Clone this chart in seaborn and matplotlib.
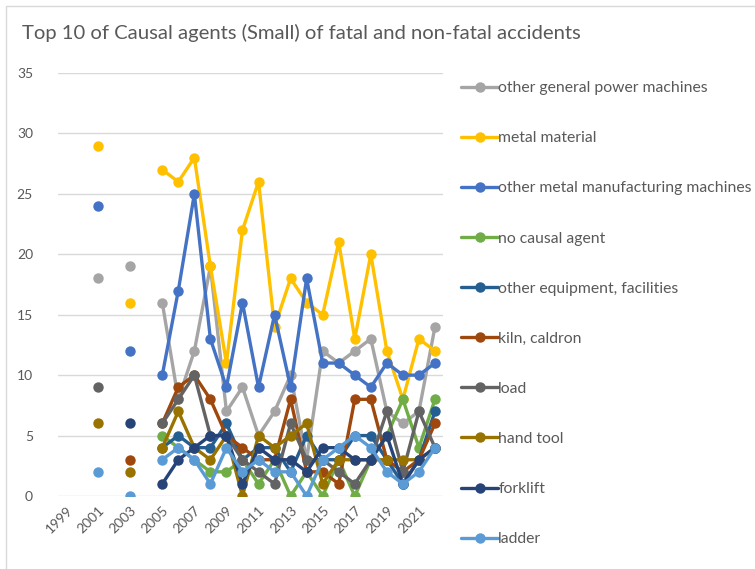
import numpy as np
import pandas as pd
import matplotlib
matplotlib.use("Agg")
import matplotlib.pyplot as plt
import seaborn as sns
from matplotlib.patches import Rectangle

# years on the category axis (1999-2022), data only for 2001, 2003, 2005-2022
years = list(range(1999, 2023))
data_years = [2001, 2003] + list(range(2005, 2023))

agents = ["other general power machines", "metal material",
          "other metal manufacturing machines", "no causal agent",
          "other equipment, facilities", "kiln, caldron", "load",
          "hand tool", "forklift", "ladder"]

colors = ["#A5A5A5", "#FFC000", "#4472C4", "#70AD47", "#255E91",
          "#9E480E", "#636363", "#997300", "#264478", "#5B9BD5"]

N = np.nan
# values for 2001, 2003, 2005 ... 2022
power_machines = [18, 19, 16, 8, 12, 19, 7, 9, 5, 7, 10, 3, 12, 11, 12, 13, 7, 6, 7, 14]
metal_material = [29, 16, 27, 26, 28, 19, 11, 22, 26, 14, 18, 16, 15, 21, 13, 20, 12, 8, 13, 12]
metal_machines = [24, 12, 10, 17, 25, 13, 9, 16, 9, 15, 9, 18, 11, 11, 10, 9, 11, 10, 10, 11]
no_agent = [N, N, 5, 4, 3, 2, 2, 3, 1, 3, 0, 2, 0, 3, 0, 3, 5, 8, 4, 8]
other_equipment = [N, N, 4, 5, 4, 4, 6, 3, 4, 4, 2, 5, 3, 3, 5, 5, 3, 1, 3, 7]
kiln = [N, 3, 6, 9, 10, 8, 5, 4, 3, 3, 8, 2, 2, 1, 8, 8, 3, 2, 3, 6]
load = [9, N, 6, 8, 10, 5, 5, 3, 2, 1, 6, 3, 3, 2, 1, 3, 7, 2, 7, 4]
hand_tool = [6, 2, 4, 7, 4, 3, 5, 0, 5, 4, 5, 6, 1, 3, 3, 3, 3, 3, 3, 4]
forklift = [N, 6, 1, 3, 4, 5, 5, 1, 4, 3, 3, 2, 4, 4, 3, 3, 5, 1, 3, 4]
ladder = [2, 0, 3, 4, 3, 1, 4, 2, 3, 2, 2, 0, 3, 4, 5, 4, 2, 1, 2, 4]

series = [power_machines, metal_material, metal_machines, no_agent,
          other_equipment, kiln, load, hand_tool, forklift, ladder]

rows = []
for name, vals in zip(agents, series):
    for yr, v in zip(data_years, vals):
        if np.isnan(v):
            continue
        # separate line pieces where years are missing
        seg = yr if yr < 2005 else 2005
        rows.append({"year": yr, "value": v, "agent": name, "seg": seg})
df = pd.DataFrame(rows)

sns.set_style("white")
plt.rcParams["font.family"] = ["Lato", "DejaVu Sans"]

fig = plt.figure(figsize=(7.55, 5.69), dpi=100)
ax = fig.add_axes([58 / 755, 73 / 569, 385 / 755, 423 / 569])

sns.lineplot(data=df, x="year", y="value", hue="agent", units="seg",
             estimator=None, hue_order=agents, palette=colors,
             marker="o", markersize=7.5, markeredgewidth=0, linewidth=2.4,
             sort=True, ax=ax)

ax.set_xlim(1998.5, 2022.5)
ax.set_ylim(0, 35)
ax.set_yticks(range(0, 36, 5))
ax.set_xticks(range(1999, 2022, 2))
ax.set_xticklabels([str(y) for y in range(1999, 2022, 2)], rotation=45,
                   ha="right", rotation_mode="anchor")
ax.tick_params(axis="both", length=0, labelsize=10, labelcolor="#595959")
ax.tick_params(axis="x", pad=6)
ax.tick_params(axis="y", pad=18)
ax.grid(axis="y", color="#D9D9D9", linewidth=1)
ax.set_axisbelow(True)
for s in ax.spines.values():
    s.set_visible(False)
ax.set_xlabel("")
ax.set_ylabel("")

handles, labels = ax.get_legend_handles_labels()
ax.legend(handles, labels, loc="upper left", bbox_to_anchor=(455 / 755, 1 - 75 / 569),
          bbox_transform=fig.transFigure, frameon=False, fontsize=11.3,
          labelcolor="#595959", handlelength=2.35, handletextpad=0.0,
          labelspacing=2.30, borderaxespad=0)

fig.text(22 / 755, 1 - 33 / 569, "Top 10 of Causal agents (Small) of fatal and non-fatal accidents",
         fontsize=14.6, color="#595959", va="center")

fig.patches.append(Rectangle((6 / 755, -0.1), 1.2, 1 - 6 / 569 + 0.1,
                             transform=fig.transFigure, fill=False,
                             edgecolor="#D9D9D9", linewidth=1))

fig.savefig("out.png", dpi=100)
